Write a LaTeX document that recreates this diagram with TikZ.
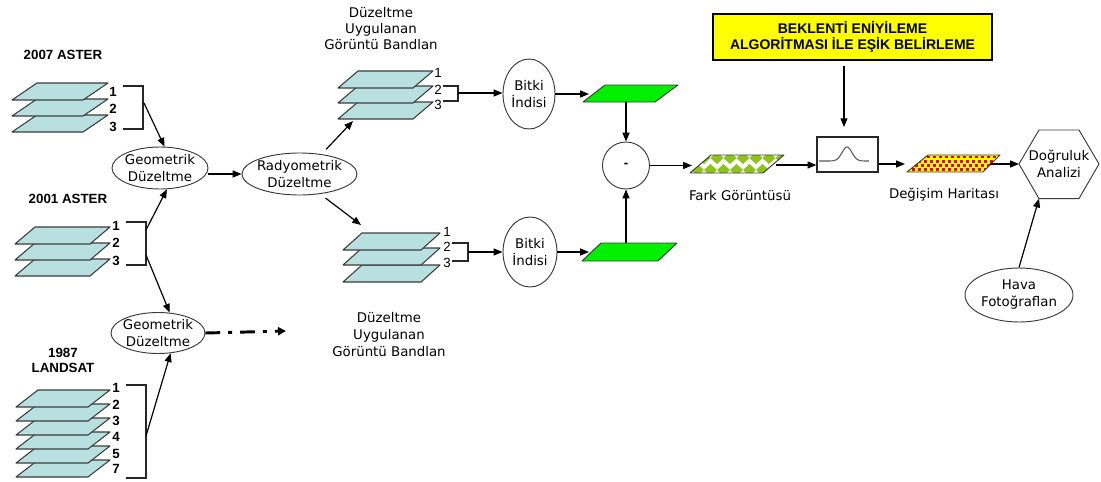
\documentclass[tikz,border=0pt]{standalone}
\usepackage{fontspec}
\setmainfont{DejaVu Sans}
\newfontfamily\lib{Liberation Sans}
\usetikzlibrary{arrows.meta,shapes.geometric}
\definecolor{layerfill}{HTML}{B9E0E1}
\definecolor{layeredge}{HTML}{3C3C3C}
\definecolor{limegreen}{HTML}{00F000}
\definecolor{diagreen}{HTML}{8CC41A}
\definecolor{mapred}{HTML}{E60000}
\definecolor{mapyellow}{HTML}{FFFF00}
\definecolor{edgegray}{HTML}{3A3A3A}
\tikzset{
  arr/.style={draw=black, line width=0.9pt, -{Triangle[length=6.6pt,width=5.2pt]}},
  ell/.style={ellipse, draw=edgegray, line width=0.7pt, inner sep=0pt},
  txt/.style={font=\fontsize{10}{12.75}\selectfont, align=center, inner sep=0pt},
  btxt/.style={font=\lib\bfseries\fontsize{10}{11.25}\selectfont, align=center, inner sep=0pt},
  num/.style={font=\lib\bfseries\fontsize{10}{12}\selectfont, inner sep=0pt},
  rnum/.style={font=\lib\fontsize{10}{12}\selectfont, inner sep=0pt},
  layerbox/.style={fill=layerfill, draw=layeredge, line width=0.8pt, line join=round},
  brk/.style={draw=black!85, line width=0.9pt},
  greenpara/.style={fill=limegreen, draw=edgegray, line width=0.7pt, line join=round},
  paraedge/.style={draw=edgegray, line width=0.7pt, line join=round},
}
\newcommand{\lyr}[5]{\path[layerbox] (#1,#2) -- ++(#3,0) -- ++(-#4,#5) -- ++(-#3,0) -- cycle;}
\begin{document}
\begin{tikzpicture}[x=0.75pt, y=-0.75pt]
\useasboundingbox[fill=white] (0,0) rectangle (1101,482);

% ---------- input stacks ----------
\node[btxt] (t07) at (63,55) {2007 ASTER};
\foreach \t in {115,99,83} {\lyr{37}{\t}{71}{25}{17}}
\foreach \n/\y in {1/92,2/109,3/127} \node[num] (n07-\n) at (113,\y) {\n};
\draw[brk] (123,86) -- (143,86) -- (143,129) -- (123,129);
\coordinate (b07) at (144,103);

\node[btxt] (t01) at (68,199) {2001 ASTER};
\foreach \t in {259,243,227} {\lyr{35}{\t}{75}{20}{17}}
\foreach \n/\y in {1/226,2/243,3/261} \node[num] (n01-\n) at (116,\y) {\n};
\draw[brk] (126,222) -- (146,222) -- (146,265) -- (126,265);
\coordinate (b01a) at (146,230);
\coordinate (b01b) at (146,255);

\node[btxt] (t87) at (63,360.5) {1987\\LANDSAT};
\foreach \t in {460,446,432,418,404,390} {\lyr{38}{\t}{72}{22}{17}}
\foreach \n/\y in {1/388,2/405,3/421,4/437,5/454,7/469} \node[num] (n87-\n) at (116,\y) {\n};
\draw[brk] (126,385) -- (146,385) -- (146,478) -- (126,478);
\coordinate (bL) at (146,436);

% ---------- correction ellipses ----------
\node[ell, minimum width=72pt, minimum height=31.5pt] (g1) at (160,168) {};
\node[txt] (g1t) at (g1) {Geometrik\\Düzeltme};
\node[ell, minimum width=70.5pt, minimum height=30.75pt] (g2) at (158,333) {};
\node[txt] (g2t) at (g2) {Geometrik\\Düzeltme};
\node[ell, minimum width=86.25pt, minimum height=31.5pt] (rad) at (299.5,174) {};
\node[txt] (radt) at (rad) {Radyometrik\\Düzeltme};

\draw[arr] (b07) -- (g1.78);
\draw[arr] (b01a) -- (g1.-72);
\draw[arr] (b01b) -- (g2.60);
\draw[arr] (bL) -- (g2.-58);
\draw[arr] (g1.east |- rad.west) -- (rad.west);
\coordinate (dd) at (286,331);
\draw[line width=2.2pt, dash pattern=on 11pt off 6pt on 3pt off 6pt, -{Triangle[length=6pt,width=6pt]}] (g2.east) -- (dd);

% ---------- corrected band stacks ----------
\node[txt, font=\fontsize{10}{12}\selectfont] (ttop) at (381,29) {Düzeltme\\Uygulanan\\Görüntü Bandlan};
\foreach \t in {102,86,71} {\lyr{358}{\t}{75}{20}{17}}
\foreach \n/\y in {1/73,2/90,3/105} \node[rnum] (nt-\n) at (438,\y) {\n};
\draw[brk] (443,86) -- (458,86) -- (458,101) -- (443,101);
\coordinate (bT) at (458,93);
\coordinate (tsA) at (353,121);

\node[txt] (tbot) at (389,335) {Düzeltme\\Uygulanan\\Görüntü Bandlan};
\foreach \t in {265,248,233} {\lyr{362}{\t}{78}{19}{17}}
\foreach \n/\y in {1/232,2/247,3/263} \node[rnum] (nb-\n) at (447,\y) {\n};
\draw[brk] (452,243) -- (468,243) -- (468,261) -- (452,261);
\coordinate (bB) at (468,252);
\coordinate (tsB) at (361,225);

\draw[arr, shorten <=5pt] (rad.42) -- (tsA);
\draw[arr, shorten <=5pt] (rad.-44) -- (tsB);

% ---------- vegetation index ----------
\node[ell, minimum width=39pt, minimum height=52.5pt] (bit1) at (529,94) {};
\node[txt] (bit1t) at (bit1) {Bitki\\İndisi};
\node[ell, minimum width=40.5pt, minimum height=52.5pt] (bit2) at (530,252) {};
\node[txt] (bit2t) at (bit2) {Bitki\\İndisi};
\draw[arr] (bT) -- (bT -| bit1.west);
\draw[arr] (bB) -- (bB -| bit2.west);

\path[greenpara] (605,85) -- (678,85) -- (655,102) -- (583,102) -- cycle;
\path[greenpara] (601,243) -- (677,243) -- (658,261) -- (582,261) -- cycle;
\coordinate (gr1w) at (589,94);
\coordinate (gr1s) at (626,102);
\coordinate (gr2w) at (589,252);
\coordinate (gr2n) at (626,243);
\draw[arr] (bit1.east) -- (gr1w);
\draw[arr] (bit2.east) -- (gr2w);

% ---------- difference ----------
\node[circle, draw=edgegray, line width=0.7pt, minimum size=35.25pt, inner sep=0pt] (circ) at (626,165.5) {};
\node[font=\lib\bfseries\fontsize{10}{12}\selectfont, inner sep=0pt] (circt) at (circ) {-};
\draw[arr] (gr1s) -- (circ.north);
\draw[arr] (gr2n) -- (circ.south);

% difference image (diamond pattern)
\fill[white] (711,155) -- (784,155) -- (763,173) -- (690,173) -- cycle;
\begin{scope}
\clip (711,155) -- (784,155) -- (763,173) -- (690,173) -- cycle;
\foreach \i in {0,...,9} {
  \pgfmathsetmacro\cx{678+13*\i}
  \fill[diagreen] (\cx,152) -- (\cx+6.5,158) -- (\cx,164) -- (\cx-6.5,158) -- cycle;
  \fill[diagreen] (\cx+6.5,164) -- (\cx+13,170) -- (\cx+6.5,176) -- (\cx,170) -- cycle;
}
\end{scope}
\path[paraedge] (711,155) -- (784,155) -- (763,173) -- (690,173) -- cycle;
\node[txt] (fark) at (740,196) {Fark Görüntüsü};
\coordinate (farkW) at (692,165);
\coordinate (farkE) at (776,165);
\draw[arr] (circ.east) -- (circ.east -| farkW);

% ---------- threshold ----------
\node[draw=black, line width=1.1pt, fill=mapyellow, minimum width=209.25pt, minimum height=34.5pt, inner sep=0pt, align=center, font=\lib\bfseries\fontsize{10.5}{12}\selectfont] (yel) at (852.5,37) {BEKLENTİ ENİYİLEME\\ALGORİTMASI İLE EŞİK BELİRLEME};
\node[draw=black!85, line width=0.9pt, minimum width=45.75pt, minimum height=26.25pt, inner sep=0pt] (box) at (847.5,154.5) {};
\draw[black!65, line width=0.8pt] plot[domain=819:869, samples=70, smooth] (\x, {161-14*exp(-((\x-847)/7)^2)});
\coordinate (yarr) at (844,60);
\draw[arr, shorten <=4.5pt, shorten >=7pt] (yarr) -- (yarr |- box.north);
\draw[arr] (farkE) -- (farkE -| box.west);

% change map (red dots on yellow)
\fill[mapyellow] (928,155) -- (1000,155) -- (983,172) -- (907,172) -- cycle;
\begin{scope}
\clip (928,155) -- (1000,155) -- (983,172) -- (907,172) -- cycle;
\foreach \r in {0,1,2,3} {
  \foreach \i in {0,...,16} {
    \fill[mapred] ({903+6*\i+3*mod(\r,2)},{155.5+4.3*\r}) rectangle ++(2.9,2.9);
  }
}
\end{scope}
\path[paraedge] (928,155) -- (1000,155) -- (983,172) -- (907,172) -- cycle;
\node[txt] (map) at (944,195) {Değişim Haritası};
\coordinate (mapW) at (905,164);
\coordinate (mapE) at (990,164);
\draw[arr] (box.east |- mapW) -- (mapW);

% ---------- accuracy (hexagon) ----------
\coordinate (hexL)  at (1019,164);
\coordinate (hexTL) at (1039,130);
\coordinate (hexTR) at (1079,130);
\coordinate (hexR)  at (1099,164);
\coordinate (hexBR) at (1079,198.6);
\coordinate (hexBL) at (1039,198.6);
\path[draw=edgegray, line width=0.7pt, line join=round] (hexL) -- (hexTL) -- (hexTR) -- (hexR) -- (hexBR) -- (hexBL) -- cycle;
\node[txt] (hex) at (1059,164) {Doğruluk\\Analizi};
\draw[arr] (mapE) -- (hexL);

\node[ell, minimum width=81pt, minimum height=40.5pt] (hava) at (1019,295) {};
\node[txt] (havat) at (hava) {Hava\\Fotoğraflan};
\draw[arr] (hava.north) -- (hexBL);
\end{tikzpicture}
\end{document}
